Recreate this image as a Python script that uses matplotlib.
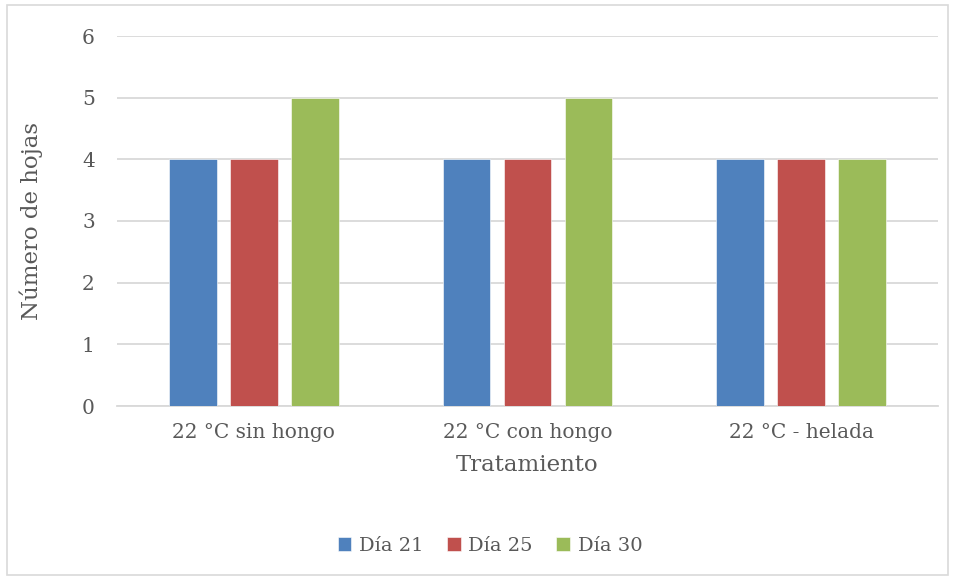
import numpy as np
import matplotlib.pyplot as plt
from matplotlib.patches import Rectangle

# datos
tratamientos = ['22 °C sin hongo', '22 °C con hongo', '22 °C - helada']
series = ['Día 21', 'Día 25', 'Día 30']
dia21 = [4, 4, 4]
dia25 = [4, 4, 4]
dia30 = [5, 5, 4]
colores = ['#4f81bd', '#c0504d', '#9bbb59']

plt.rcParams['font.family'] = ['DejaVu Serif']
gris = '#595959'

fig = plt.figure(figsize=(9.55, 5.79), dpi=100)
ax = fig.add_axes([117 / 955, 1 - 406 / 579, 821 / 955, 370 / 579])

x = np.arange(len(tratamientos))
ancho = 0.175
paso = 0.223
for k, (vals, nombre) in enumerate(zip([dia21, dia25, dia30], series)):
    ax.bar(x + (k - 1) * paso, vals, width=ancho, color=colores[k],
           edgecolor='white', linewidth=0.4, label=nombre, zorder=3)

ax.set_xlim(-0.5, 2.5)
ax.set_ylim(0, 6)
ax.set_yticks(range(0, 7))
ax.set_xticks(x)
ax.set_xticklabels(tratamientos)
ax.grid(axis='y', color='#d9d9d9', linewidth=1.3, zorder=0)
for s in ['top', 'right', 'left']:
    ax.spines[s].set_visible(False)
ax.spines['bottom'].set_color('#d9d9d9')
ax.spines['bottom'].set_linewidth(1.3)
ax.tick_params(length=0, labelsize=14.5, colors=gris)
ax.tick_params(axis='y', pad=16)
ax.tick_params(axis='x', pad=12)

ax.set_xlabel('Tratamiento', fontsize=16.5, color=gris, labelpad=9)
ax.set_ylabel('Número de hojas', fontsize=16.5, color=gris, labelpad=28)

fig.legend(loc='center', bbox_to_anchor=(490 / 955, 1 - 546 / 579), ncol=3,
           frameon=False, fontsize=14, labelcolor=gris, handlelength=0.7,
           handleheight=0.7, handletextpad=0.4, columnspacing=1.2)

# borde del gráfico
fig.patches.append(Rectangle((7 / 955, 4 / 579), 941 / 955, 570 / 579,
                             transform=fig.transFigure, fill=False,
                             edgecolor='#d9d9d9', linewidth=1.2))

fig.savefig('out.png', dpi=100)
